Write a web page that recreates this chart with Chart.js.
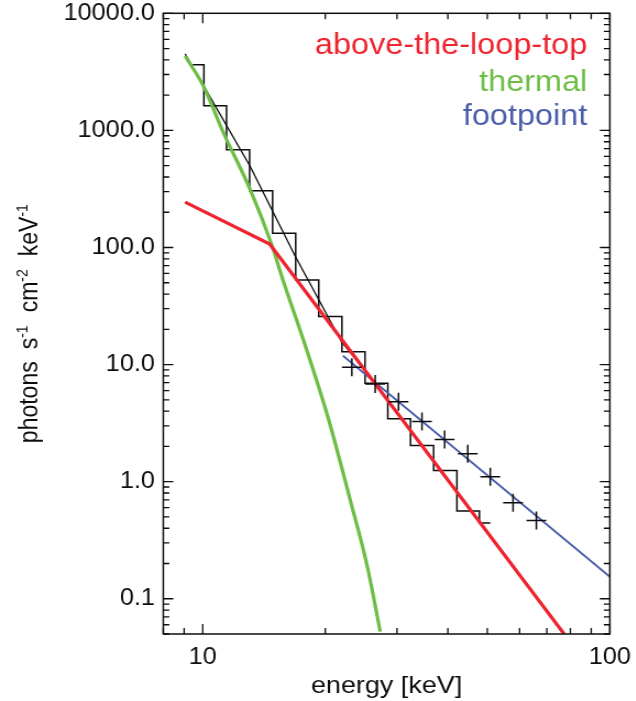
<!DOCTYPE html>
<html>
<head>
<meta charset="utf-8">
<script src="https://cdn.jsdelivr.net/npm/chart.js@4.4.1/dist/chart.umd.min.js"></script>
<style>
  html, body { margin: 0; padding: 0; background: #fff; overflow: hidden; }
  /* the figure is slightly wider than tall in its lettering, so stretch it a bit */
  #plot { display: block; transform: scaleX(1.1); transform-origin: 0 0; }
</style>
</head>
<body>
<canvas id="plot" width="578" height="701"></canvas>
<script>
// observed spectrum (drawn as a histogram)
const histEnergy = [9.45, 10.72, 12.21, 13.91, 15.85, 18.05, 20.58, 23.46, 26.72, 30.35, 34.55, 39.42, 44.98, 50.85];
const histFlux = [3627, 1623, 685, 305, 132, 52.8, 25.7, 12.85, 6.92, 3.44, 2.04, 1.245, 0.562, 0.444];

// footpoint data points and its power-law fit
const fpEnergy = [23.24, 26.52, 30.26, 34.55, 39.27, 44.78, 50.85, 57.84, 65.99];
const fpFlux = [9.47, 6.82, 4.82, 3.26, 2.29, 1.73, 1.1, 0.661, 0.467];
const fpFitEnergy = [22.1, 100];
const fpFitFlux = [11.9, 0.154];

// thermal component
const thermalEnergy = [9.05, 10.03, 11.24, 13.07, 14.64, 15.79, 18.02, 20.36, 23.02, 25.31, 27.29];
const thermalFlux = [4325, 2400, 955, 314, 115, 51, 13.2, 3.43, 0.70, 0.195, 0.0524];

// above-the-loop-top (broken power law)
const altEnergy = [9.05, 14.6, 77.2];
const altFlux = [244, 107, 0.05];

// total model
const totalEnergy = [9.05, 13.07, 16.86, 21.97, 25.06];
const totalFlux = [4500, 494, 84.5, 15.45, 8.92];

const xTicks = [10, 100];
const yTicks = [0.1, 1, 10, 100, 1000, 10000];
const legendNames = ["above-the-loop-top", "thermal", "footpoint"];

const RED = "#ee2530";
const GREEN = "#6dbd46";
const BLUE = "#4b5ea9";
const INK = "#0d0d0d";
const FONT = "'Liberation Sans', Arial, Helvetica, sans-serif";
const SX = 1.1;

const pts = (xs, ys) => xs.map((x, i) => ({ x: x, y: ys[i] }));

function noPad(s) {
    s.paddingLeft = 0;
    s.paddingRight = 0;
    s.paddingTop = 0;
    s.paddingBottom = 0;
}

const frame = {
    id: "frame",
    afterDatasetsDraw(chart) {
        const ctx = chart.ctx;
        const a = chart.chartArea;
        const sx = chart.scales.x;
        const sy = chart.scales.y;

        ctx.save();
        ctx.strokeStyle = INK;
        ctx.lineWidth = 1.5;
        ctx.strokeRect(a.left, a.top, a.right - a.left, a.bottom - a.top);

        // IDL-style ticks pointing into the box, all four sides
        ctx.lineWidth = 1.3;
        ctx.beginPath();
        for (let k = 0; k <= 2; k++) {
            for (let m = 1; m <= 9; m++) {
                const v = m * Math.pow(10, k);
                if (v < sx.min || v > sx.max) continue;
                const px = sx.getPixelForValue(v);
                const len = m === 1 ? 10 : 6;
                ctx.moveTo(px, a.bottom); ctx.lineTo(px, a.bottom - len);
                ctx.moveTo(px, a.top); ctx.lineTo(px, a.top + len);
            }
        }
        for (let k = -2; k <= 4; k++) {
            for (let m = 1; m <= 9; m++) {
                const v = m * Math.pow(10, k);
                if (v < sy.min * 0.999 || v > sy.max * 1.001) continue;
                const py = sy.getPixelForValue(v);
                const len = (m === 1 ? 10 : 6) / SX;
                ctx.moveTo(a.left, py); ctx.lineTo(a.left + len, py);
                ctx.moveTo(a.right, py); ctx.lineTo(a.right - len, py);
            }
        }
        ctx.stroke();
        ctx.restore();
    },
    afterDraw(chart) {
        const ctx = chart.ctx;
        const a = chart.chartArea;

        // component names, right aligned inside the box
        ctx.save();
        ctx.font = "29.5px " + FONT;
        ctx.textAlign = "right";
        ctx.textBaseline = "alphabetic";
        const colors = [RED, GREEN, BLUE];
        const baselines = [53.5, 90.5, 124.5];
        legendNames.forEach((name, i) => {
            ctx.fillStyle = colors[i];
            ctx.fillText(name, 587.3 / SX, baselines[i]);
        });
        ctx.restore();

        // y axis title with superscripts
        const parts = [
            ["photons", false], [null, 12], ["s", false], ["-1", true], [null, 13],
            ["cm", false], ["-2", true], [null, 13], ["keV", false], ["-1", true]
        ];
        const big = "23px " + FONT;
        const small = "14px " + FONT;
        ctx.save();
        let total = 0;
        parts.forEach(p => {
            if (p[0] === null) { total += p[1]; return; }
            ctx.font = p[1] ? small : big;
            total += ctx.measureText(p[0]).width;
        });
        const cy = (a.top + a.bottom) / 2;
        ctx.translate(37.7 / SX, cy);
        ctx.rotate(-Math.PI / 2);
        ctx.fillStyle = INK;
        ctx.textBaseline = "alphabetic";
        ctx.textAlign = "left";
        let x = -total / 2;
        parts.forEach(p => {
            if (p[0] === null) { x += p[1]; return; }
            ctx.font = p[1] ? small : big;
            ctx.fillText(p[0], x, p[1] ? -9 : 0);
            x += ctx.measureText(p[0]).width;
        });
        ctx.restore();
    }
};

const ctx = document.getElementById("plot").getContext("2d");

new Chart(ctx, {
    type: "line",
    data: {
        datasets: [
            {
                label: "footpoint data",
                data: pts(fpEnergy, fpFlux),
                showLine: false,
                pointStyle: "cross",
                pointRadius: 9,
                pointBorderWidth: 1.5,
                pointBorderColor: INK,
                order: 0
            },
            {
                label: legendNames[0],
                data: pts(altEnergy, altFlux),
                borderColor: RED,
                borderWidth: 3.2,
                pointRadius: 0,
                order: 1
            },
            {
                label: legendNames[2],
                data: pts(fpFitEnergy, fpFitFlux),
                borderColor: BLUE,
                borderWidth: 1.8,
                pointRadius: 0,
                order: 2
            },
            {
                label: legendNames[1],
                data: pts(thermalEnergy, thermalFlux),
                borderColor: GREEN,
                borderWidth: 3.2,
                pointRadius: 0,
                cubicInterpolationMode: "monotone",
                order: 3
            },
            {
                label: "total",
                data: pts(totalEnergy, totalFlux),
                borderColor: INK,
                borderWidth: 1.3,
                pointRadius: 0,
                order: 4
            },
            {
                label: "spectrum",
                data: pts(histEnergy, histFlux),
                borderColor: INK,
                borderWidth: 1.5,
                pointRadius: 0,
                stepped: "middle",
                order: 5
            }
        ]
    },
    options: {
        responsive: false,
        animation: false,
        layout: { padding: { top: 13.3, right: 23.6, left: 0, bottom: 0 } },
        elements: { line: { tension: 0 } },
        plugins: {
            legend: { display: false },
            tooltip: { enabled: false }
        },
        scales: {
            x: {
                type: "logarithmic",
                min: 8,
                max: 100,
                grid: { display: false, drawTicks: false },
                border: { display: false },
                afterBuildTicks: s => { s.ticks = xTicks.map(v => ({ value: v })); },
                afterFit: s => { s.height = 67; noPad(s); },
                ticks: {
                    autoSkip: false,
                    maxRotation: 0,
                    padding: 10,
                    color: INK,
                    font: { family: FONT, size: 23 },
                    callback: v => String(v)
                },
                title: {
                    display: true,
                    text: "energy [keV]",
                    color: INK,
                    font: { family: FONT, size: 24.5 },
                    padding: { top: 0, bottom: 0 }
                }
            },
            y: {
                type: "logarithmic",
                min: 0.05,
                max: 10000,
                grid: { display: false, drawTicks: false },
                border: { display: false },
                afterBuildTicks: s => { s.ticks = yTicks.map(v => ({ value: v })); },
                afterFit: s => { s.width = 163.3 / SX; noPad(s); },
                ticks: {
                    autoSkip: false,
                    padding: 7.6,
                    color: INK,
                    font: { family: FONT, size: 23 },
                    callback: v => v.toFixed(1)
                }
            }
        }
    },
    plugins: [frame]
});
</script>
</body>
</html>
